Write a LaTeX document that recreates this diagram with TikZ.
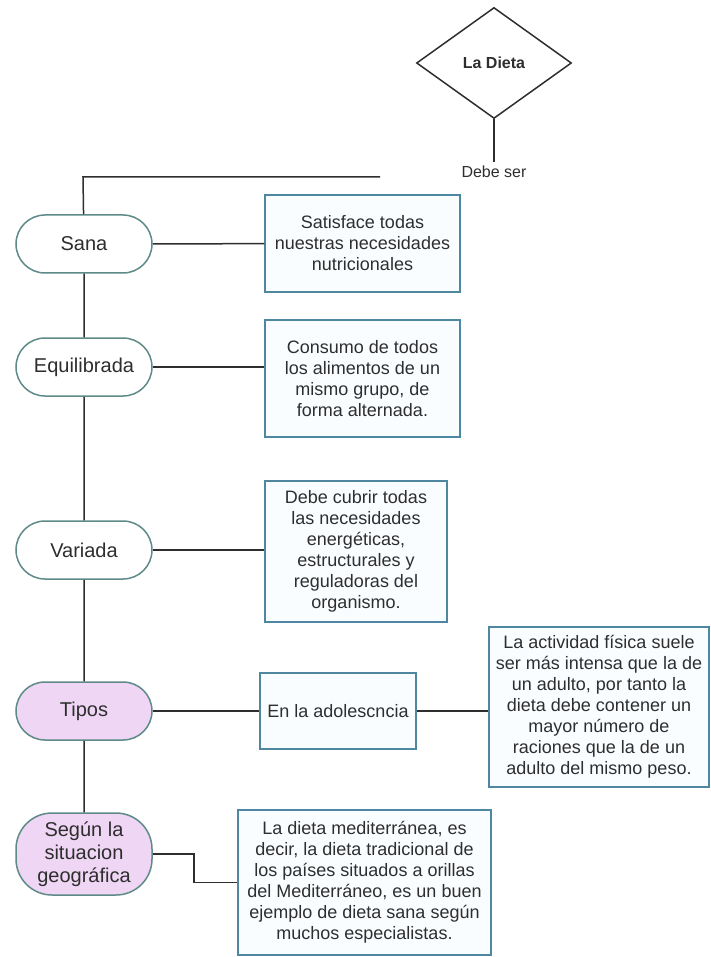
\documentclass[tikz,border=0pt]{standalone}
\usepackage{fontspec}
\setmainfont{Liberation Sans}
\usetikzlibrary{shapes.geometric}
\definecolor{pillc}{HTML}{5E8A88}
\definecolor{boxc}{HTML}{4F87A0}
\definecolor{lila}{HTML}{EFD6F4}
\definecolor{ink}{HTML}{2E2E2E}
\begin{document}
\begin{tikzpicture}[x=1pt, y=-1pt, line width=1.5pt, color=ink,
  pill/.style={draw=pillc, fill=white, rounded corners=29pt, minimum width=136pt, minimum height=58pt, align=center, font=\fontsize{20}{23}\selectfont},
  infobox/.style={draw=boxc, fill=cyan!2, inner sep=2pt, align=center, font=\fontsize{18}{21}\selectfont}]
\useasboundingbox (0,0) rectangle (711,957);
\node[diamond, draw=ink, inner sep=0pt, minimum width=155pt, minimum height=111pt, font=\fontsize{16}{18}\selectfont\bfseries] (dieta) at (494,63) {La Dieta};
\node[font=\fontsize{16}{18}\selectfont] (debe) at (494,172) {Debe ser};
\draw (dieta) -- (debe);
\coordinate (topR) at (380,177);
\coordinate (topL) at (83,177);
  \node[pill] (sana) at (84,244) {Sana};
  \node[pill] (equi) at (84,367) {Equilibrada};
  \node[pill] (vari) at (84,550) {Variada};
  \node[pill, fill=lila] (tipos) at (84,711) {Tipos};
  \node[pill, fill=lila, minimum height=82pt, rounded corners=36pt] (segun) at (84,854) {Según la\\situacion\\geográfica};
\draw (topR) -- (topL) -- (sana) -- (equi) -- (vari) -- (tipos) -- (segun);
  \node[infobox, minimum width=195pt, minimum height=97pt] (nutri) at (362.5,243.5) {Satisface todas\\nuestras necesidades\\nutricionales};
  \node[infobox, minimum width=195pt, minimum height=117pt] (consumo) at (362.5,378.5) {Consumo de todos\\los alimentos de un\\mismo grupo, de\\forma alternada.};
  \node[infobox, minimum width=182pt, minimum height=141pt] (cubrir) at (356,551.5) {Debe cubrir todas\\las necesidades\\energéticas,\\estructurales y\\reguladoras del\\organismo.};
  \node[infobox, minimum width=156pt, minimum height=76pt] (adol) at (338,711) {En la adolescncia};
  \node[infobox, minimum width=220pt, minimum height=160pt] (fisica) at (599,707) {La actividad física suele\\ser más intensa que la de\\un adulto, por tanto la\\dieta debe contener un\\mayor número de\\raciones que la de un\\adulto del mismo peso.};
  \node[infobox, minimum width=253pt, minimum height=145pt] (medit) at (364.5,882.5) {La dieta mediterránea, es\\decir, la dieta tradicional de\\los países situados a orillas\\del Mediterráneo, es un buen\\ejemplo de dieta sana según\\muchos especialistas.};
\draw (sana) -- (nutri);
\draw (equi.east) -- (equi.east -| consumo.west);
\draw (vari) -- (vari -| cubrir.west);
\draw (tipos) -- (adol);
\draw (adol.east) -- (adol.east -| fisica.west);
\draw (segun.east) -- ++(41,0) |- (medit.west);
\end{tikzpicture}
\end{document}
